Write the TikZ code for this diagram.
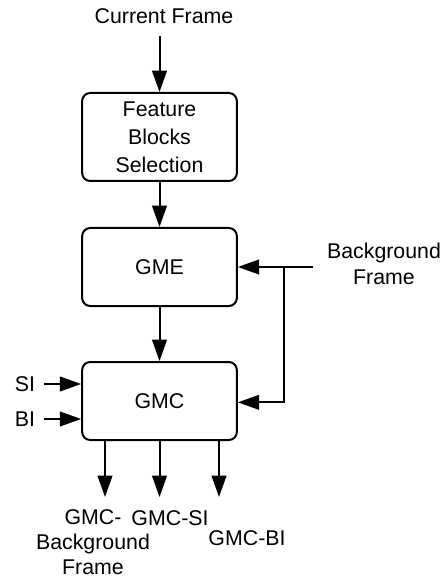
\documentclass[tikz,border=0pt]{standalone}
\usepackage{fontspec}
\setmainfont{Liberation Sans}
\usetikzlibrary{arrows.meta}

\tikzset{every picture/.style={line width=1.5pt}}
\tikzset{
  blk/.style={draw, rounded corners=6pt, minimum width=116pt, inner sep=0pt, align=center},
  lbl/.style={inner sep=0.75pt, align=center},
  flow/.style={-{Triangle[length=16pt,width=11pt]}}
}

\begin{document}
\begin{tikzpicture}[x=0.75pt,y=0.75pt,yscale=-1,xscale=1,
  font=\fontsize{16}{19}\selectfont]
\path[use as bounding box] (0,0) rectangle (447,580);

% Blocks
\node [blk, minimum height=66pt, font=\fontsize{16}{21}\selectfont] (fbs) at (159.5,137) {Feature\\Blocks\\Selection};
\node [blk, minimum height=58.5pt] (gme) at (159.5,267) {GME};
\node [blk, minimum height=58.5pt] (gmc) at (159.5,401) {GMC};

% Text Nodes
\node [lbl] (cur) at (164,16) {Current Frame};
\node [lbl] (bgf) at (384,264) {Background\\Frame};
\node [lbl] (si) at (25,384) {SI};
\node [lbl] (bi) at (25,419) {BI};
\node [lbl] (outbg) at (93,542) {GMC-\\Background\\Frame};
\node [lbl] (outsi) at (170,518) {GMC-SI};
\node [lbl] (outbi) at (247,538) {GMC-BI};

% Coordinates
\coordinate (curs) at (159.5,36);
\coordinate (bgs) at (313,267);
\coordinate (jn) at (284,267);
\coordinate (sis) at (44,384);
\coordinate (bis) at (44,419);
\coordinate (o1) at (105,497);
\coordinate (o2) at (159.5,497);
\coordinate (o3) at (219,497);

% Connectors
\draw [flow] (curs) -- (fbs.north);
\draw [flow] (fbs.south) -- (gme.north);
\draw [flow] (gme.south) -- (gmc.north);
\draw [flow] (bgs) -- (gme.east);
\draw [flow] (jn) |- ([yshift=1pt]gmc.east);
\draw [flow] (sis) -- (sis -| gmc.west);
\draw [flow] (bis) -- (bis -| gmc.west);
\draw [flow] (o1 |- gmc.south) -- (o1);
\draw [flow] (gmc.south) -- (o2);
\draw [flow] (o3 |- gmc.south) -- (o3);

\end{tikzpicture}
\end{document}
